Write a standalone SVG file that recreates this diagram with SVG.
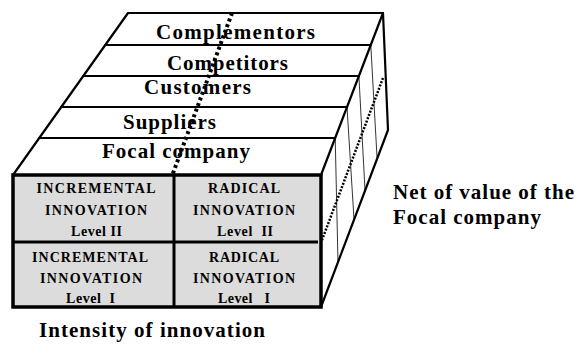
<svg xmlns="http://www.w3.org/2000/svg" width="575" height="356" viewBox="0 0 575 356">
<style>
.t{font-family:"Liberation Serif","Times New Roman",serif;font-weight:bold;fill:#000}
.big{font-size:21px}
.sm{font-size:14px}
.ln{stroke:#000;fill:none;stroke-linecap:round;stroke-linejoin:round}
</style>
<rect width="575" height="356" fill="#fff"/>
<g id="box">
<g id="top-face">
<polygon class="ln" points="128,13 383,13 321,175 13,175" stroke-width="2.2" fill="#fff"/>
<line class="ln" x1="105.3" y1="45" x2="370.8" y2="45" stroke-width="2"/>
<line class="ln" x1="83.3" y1="76" x2="358.9" y2="76" stroke-width="2"/>
<line class="ln" x1="61.3" y1="107" x2="347" y2="107" stroke-width="2"/>
<line class="ln" x1="39.3" y1="138" x2="335.2" y2="138" stroke-width="2"/>
</g>
<g id="right-face">
<polyline class="ln" points="383,13 388,130 321,307" stroke-width="2.2"/>
<line class="ln" x1="370.8" y1="45" x2="377" y2="157" stroke-width="0.8"/>
<line class="ln" x1="358.9" y1="76" x2="365" y2="190" stroke-width="0.8"/>
<line class="ln" x1="347" y1="107" x2="354" y2="219" stroke-width="0.8"/>
<line class="ln" x1="335.2" y1="138" x2="338" y2="262" stroke-width="0.8"/>
</g>
</g>
<g id="complementors"><text class="t big" x="156" y="39" textLength="159" lengthAdjust="spacing">Complementors</text></g>
<g id="competitors"><text class="t big" x="167" y="70" textLength="121" lengthAdjust="spacing">Competitors</text></g>
<g id="customers"><text class="t big" x="144" y="94" textLength="107" lengthAdjust="spacing">Customers</text></g>
<g id="suppliers"><text class="t big" x="123" y="129" textLength="93" lengthAdjust="spacing">Suppliers</text></g>
<g id="focal-company"><text class="t big" x="102" y="158" textLength="148" lengthAdjust="spacing">Focal company</text></g>
<g id="front-face">
<rect x="13" y="175" width="308" height="132" fill="#dcdcdc" stroke="#000" stroke-width="3.5"/>
<line x1="174" y1="175" x2="174" y2="307" stroke="#000" stroke-width="3"/>
<line x1="13" y1="242" x2="318" y2="242" stroke="#000" stroke-width="3"/>
</g>
<g id="incremental-2">
<text class="t sm" x="96" y="193" text-anchor="middle" textLength="119" lengthAdjust="spacing">INCREMENTAL</text>
<text class="t sm" x="96" y="215" text-anchor="middle" textLength="102" lengthAdjust="spacing">INNOVATION</text>
<text class="t sm" x="96.5" y="236" text-anchor="middle" textLength="51" lengthAdjust="spacing">Level II</text>
</g>
<g id="radical-2">
<text class="t sm" x="244" y="193" text-anchor="middle" textLength="72" lengthAdjust="spacing">RADICAL</text>
<text class="t sm" x="244" y="215" text-anchor="middle" textLength="102" lengthAdjust="spacing">INNOVATION</text>
<text class="t sm" x="245" y="236" text-anchor="middle" textLength="56" lengthAdjust="spacing" xml:space="preserve">Level  II</text>
</g>
<g id="incremental-1">
<text class="t sm" x="90" y="262" text-anchor="middle" textLength="116" lengthAdjust="spacing">INCREMENTAL</text>
<text class="t sm" x="91" y="283" text-anchor="middle" textLength="102" lengthAdjust="spacing">INNOVATION</text>
<text class="t sm" x="90.5" y="303" text-anchor="middle" textLength="49" lengthAdjust="spacing" xml:space="preserve">Level  I</text>
</g>
<g id="radical-1">
<text class="t sm" x="244" y="262" text-anchor="middle" textLength="70" lengthAdjust="spacing">RADICAL</text>
<text class="t sm" x="244" y="283" text-anchor="middle" textLength="102" lengthAdjust="spacing">INNOVATION</text>
<text class="t sm" x="244" y="303" text-anchor="middle" textLength="52" lengthAdjust="spacing" xml:space="preserve">Level   I</text>
</g>
<g id="connectors">
<line x1="232" y1="13" x2="172" y2="176" stroke="#000" stroke-width="4" stroke-dasharray="3 3"/>
<line x1="383" y1="78" x2="322" y2="240" stroke="#000" stroke-width="2.5" stroke-dasharray="2 1.5"/>
</g>
<g id="net-label">
<text class="t big" x="393" y="199" textLength="181" lengthAdjust="spacing">Net of value of the</text>
<text class="t big" x="393" y="224" textLength="148" lengthAdjust="spacing">Focal company</text>
</g>
<g id="axis-label"><text class="t big" x="39" y="337" textLength="226" lengthAdjust="spacing">Intensity of innovation</text></g>
</svg>
